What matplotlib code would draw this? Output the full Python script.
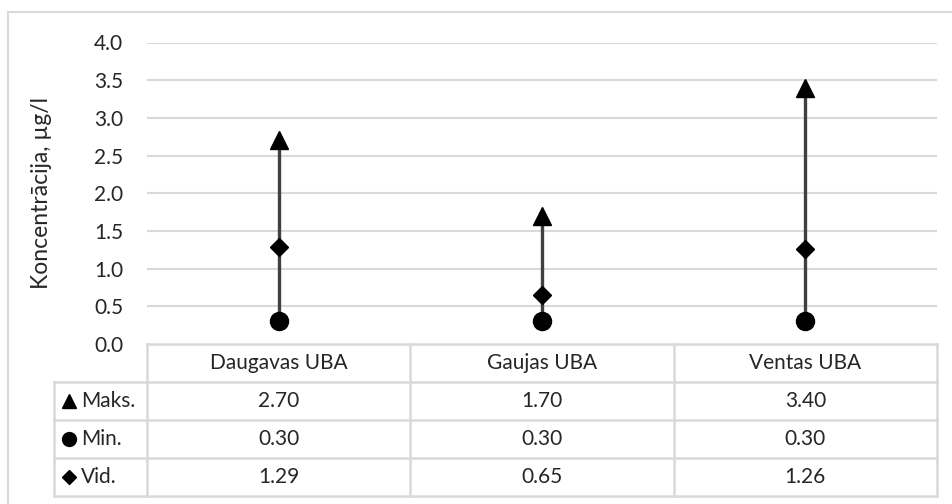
import matplotlib
matplotlib.use("Agg")
import matplotlib.pyplot as plt
from matplotlib.lines import Line2D

# Data
categories = ["Daugavas UBA", "Gaujas UBA", "Ventas UBA"]
max_vals = [2.70, 1.70, 3.40]
min_vals = [0.30, 0.30, 0.30]
avg_vals = [1.29, 0.65, 1.26]
series_names = ["Maks.", "Min.", "Vid."]
y_ticks = [0.0, 0.5, 1.0, 1.5, 2.0, 2.5, 3.0, 3.5, 4.0]
y_label = "Koncentrācija, µg/l"

W, H = 952, 504
FONT = "Lato"
TXT = "#262626"
GRID = "#d9d9d9"
FS = 15
FS_LABEL = 16.5

plt.rcParams["font.family"] = [FONT, "DejaVu Sans"]

fig = plt.figure(figsize=(W / 100, H / 100), dpi=100)


def px_axes(left, top, right, bottom):
    return fig.add_axes([left / W, 1 - bottom / H, (right - left) / W, (bottom - top) / H])


# Chart border (left and top edges)
fig.add_artist(Line2D([8 / W, 8 / W], [0, 1 - 12 / H], transform=fig.transFigure,
                      color=GRID, lw=1.5))
fig.add_artist(Line2D([8 / W, 1], [1 - 12 / H, 1 - 12 / H], transform=fig.transFigure,
                      color=GRID, lw=1.5))

# Plot area
ax = px_axes(147, 42.5, 937, 344)
x = list(range(len(categories)))
ax.set_xlim(-0.5, len(categories) - 0.5)
ax.set_ylim(0, 4)
for s in ax.spines.values():
    s.set_visible(False)
ax.set_xticks([])
ax.set_yticks(y_ticks)
ax.set_yticklabels([f"{t:.1f}" for t in y_ticks], fontsize=FS, color=TXT)
ax.tick_params(axis="y", length=0, pad=17)
for t in y_ticks[1:]:
    ax.axhline(t, color=GRID, lw=1.5, zorder=0)

# High-low lines and markers
ax.vlines(x, min_vals, max_vals, color="#404040", lw=2.4, zorder=2)
ax.plot(x, max_vals, ls="none", marker="^", ms=13, color="black", zorder=3)
ax.plot(x, min_vals, ls="none", marker="o", ms=13, color="black", zorder=3)
ax.plot(x, avg_vals, ls="none", marker="D", ms=9, color="black", zorder=3)

fig.text(42 / W, 1 - 193 / H, y_label, rotation=90, ha="center", va="center",
         fontsize=FS_LABEL, color=TXT)

# Data table
col_w = (937 - 147) / len(categories)
x_left = -0.5 - (147 - 54) / col_w
tab = px_axes(54, 344, 937, 496)
tab.set_xlim(x_left, len(categories) - 0.5)
tab.set_ylim(4, 0)
tab.axis("off")
n = len(categories)
line_kw = dict(color=GRID, lw=1.8, clip_on=False, solid_capstyle="projecting")
tab.plot([-0.5, n - 0.5], [0, 0], **line_kw)
for r in range(1, 5):
    tab.plot([x_left, n - 0.5], [r, r], **line_kw)
for c in range(n + 1):
    tab.plot([c - 0.5, c - 0.5], [0, 4], **line_kw)
tab.plot([x_left, x_left], [1, 4], **line_kw)

for i, cat in enumerate(categories):
    tab.text(i, 0.5, cat, ha="center", va="center", fontsize=FS, color=TXT)

rows = [max_vals, min_vals, avg_vals]
key_markers = [("^", 10), ("o", 10), ("D", 7)]
for r, (vals, name, (mk, ms)) in enumerate(zip(rows, series_names, key_markers), start=1):
    for i, v in enumerate(vals):
        tab.text(i, r + 0.5, f"{v:.2f}", ha="center", va="center", fontsize=FS, color=TXT)
    tab.plot([x_left + (69 - 54) / col_w], [r + 0.5], ls="none", marker=mk, ms=ms,
             color="black", clip_on=False)
    tab.text(x_left + (81 - 54) / col_w, r + 0.5, name, ha="left", va="center",
             fontsize=FS, color=TXT)

fig.savefig("out.png", dpi=100, facecolor="white")
